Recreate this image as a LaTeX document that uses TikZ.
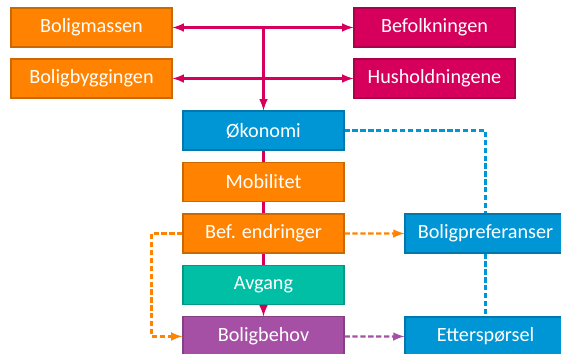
\documentclass[tikz,border=0pt]{standalone}
\usepackage{fontspec}
\setmainfont{Carlito}
\usepackage{xcolor}
\usepackage{tikz}
\usetikzlibrary{arrows,positioning,shapes}

\definecolor{boxorange}{RGB}{255,130,0}
\definecolor{boxred}{RGB}{214,0,92}
\definecolor{boxblue}{RGB}{0,150,214}
\definecolor{boxteal}{RGB}{0,191,165}
\definecolor{boxpurple}{RGB}{165,80,165}

\begin{document}
\begin{tikzpicture}[
    x=0.02cm, y=-0.02cm,
    node distance=1.03cm,
    >=latex,
    box/.style={rectangle, draw=#1!80!black, fill=#1, line width=0.6pt, text=white,
        minimum width=3.22cm, minimum height=0.78cm, align=center,
        font=\fontsize{11.5}{13}\selectfont},
    link/.style={draw=boxred, line width=1.2pt},
    dashlink/.style={draw=#1, line width=1.2pt, dash pattern=on 3pt off 1.5pt}
]
    \useasboundingbox (0,0) rectangle (561,354);

    \node[box=boxorange] (boligmassen) at (91.5,27.5) {Boligmassen};
    \node[box=boxorange] (boligbygging) at (91.5,78.5) {Boligbyggingen};
    \node[box=boxred] (befolkning) at (434.5,27.5) {Befolkningen};
    \node[box=boxred] (husholdning) at (434.5,78.5) {Husholdningene};

    \node[box=boxblue] (okonomi) at (263.5,130.5) {Økonomi};
    \node[box=boxorange, below of=okonomi] (mobilitet) {Mobilitet};
    \node[box=boxorange, below of=mobilitet] (befendr) {Bef. endringer};
    \node[box=boxteal, below of=befendr] (avgang) {Avgang};
    \node[box=boxpurple, below of=avgang] (behov) {Boligbehov};

    \node[box=boxblue] (preferanse) at (485.5,233.5) {Boligpreferanser};
    \node[box=boxblue] (etterspor) at (485.5,336.5) {Etterspørsel};

    \draw[link, <->] (boligmassen.east) -- (befolkning.west);
    \draw[link, <->] (boligbygging.east) -- (husholdning.west);
    \draw[link, ->] (boligmassen.east -| okonomi.north) -- (okonomi.north);

    \draw[link] (okonomi) -- (mobilitet);
    \draw[link] (mobilitet) -- (befendr);
    \draw[link] (befendr) -- (avgang);
    \draw[link, ->] (avgang) -- (behov);

    \draw[dashlink=boxorange, ->] (befendr) -- (preferanse);
    \draw[dashlink=boxorange, ->] (befendr.west) -- ++(-31,0) |- (behov.west);
    \draw[dashlink=boxpurple, ->] (behov) -- (etterspor);
    \draw[dashlink=boxblue] (okonomi.east) -| (preferanse.north);
    \draw[dashlink=boxblue] (preferanse) -- (etterspor);
\end{tikzpicture}
\end{document}
